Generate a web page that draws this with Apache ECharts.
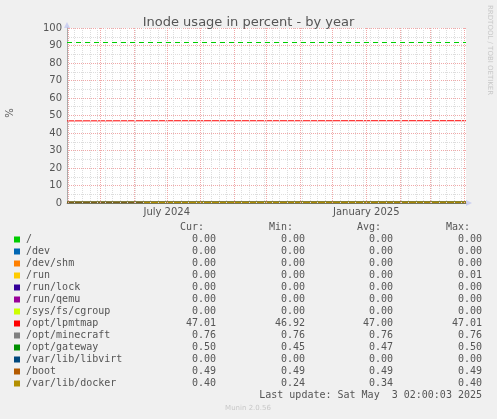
<!DOCTYPE html>
<html><head><meta charset="utf-8">
<script src="https://cdn.jsdelivr.net/npm/echarts@6/dist/echarts.min.js"></script>
<style>html,body{margin:0;background:#f0f0f0}#c{width:497px;height:419px}</style>
</head><body><div id="c"></div>
<script>
const dates = ['2024-03-31','2024-05-01','2024-06-10','2024-07-01','2024-08-01','2024-09-01','2024-10-01','2024-11-01','2024-12-01','2025-01-01','2025-02-01','2025-03-01','2025-04-03'];
const names = ['/','/dev','/dev/shm','/run','/run/lock','/run/qemu','/sys/fs/cgroup','/opt/lpmtmap','/opt/minecraft','/opt/gateway','/var/lib/libvirt','/boot','/var/lib/docker'];
const colors = ['#00cc00','#0066b3','#ff8000','#ffcc00','#330099','#990099','#ccff00','#ff0000','#808080','#008f00','#00487d','#b35a00','#b38f00'];
const values = [
 [0,0,0,0,0,0,0,0,0,0,0,0,0],
 [0,0,0,0,0,0,0,0,0,0,0,0,0],
 [0,0,0,0,0,0,0,0,0,0,0,0,0],
 [0,0,0,0,0,0,0,0,0,0,0,0,0],
 [0,0,0,0,0,0,0,0,0,0,0,0,0],
 [0,0,0,0,0,0,0,0,0,0,0,0,0],
 [0,0,0,0,0,0,0,0,0,0,0,0,0],
 [46.92,46.95,46.98,47.0,47.0,47.0,47.0,47.0,47.0,47.01,47.01,47.01,47.01],
 [0.76,0.76,0.76,0.76,0.76,0.76,0.76,0.76,0.76,0.76,0.76,0.76,0.76],
 [0.45,0.46,0.46,0.47,0.47,0.47,0.47,0.47,0.48,0.48,0.49,0.5,0.5],
 [0,0,0,0,0,0,0,0,0,0,0,0,0],
 [0.49,0.49,0.49,0.49,0.49,0.49,0.49,0.49,0.49,0.49,0.49,0.49,0.49],
 [null,null,0.24,0.26,0.28,0.3,0.32,0.34,0.35,0.36,0.38,0.39,0.40]
];
const cur = ['0.00','0.00','0.00','0.00','0.00','0.00','0.00','47.01','0.76','0.50','0.00','0.49','0.40'];
const mins = ['0.00','0.00','0.00','0.00','0.00','0.00','0.00','46.92','0.76','0.45','0.00','0.49','0.24'];
const avgs = ['0.00','0.00','0.00','0.00','0.00','0.00','0.00','47.00','0.76','0.47','0.00','0.49','0.34'];
const maxs = ['0.00','0.00','0.00','0.01','0.00','0.00','0.00','47.01','0.76','0.50','0.00','0.49','0.40'];
const warning = 92;
const yTicks = [0,100,10];
const monthGrid = ['2024-04-01','2024-05-01','2024-06-01','2024-07-01','2024-08-01','2024-09-01','2024-10-01','2024-11-01','2024-12-01','2025-01-01','2025-02-01','2025-03-01','2025-04-01'];

const weekGrid = [];
for (let t = Date.UTC(2024,3,7); t < Date.UTC(2025,3,3); t += 7*864e5) weekGrid.push(t);

const mono = 'DejaVu Sans Mono';
const txt = '#555';
const series = [{
  type:'line', data:[], silent:true, z:1,
  markLine:{silent:true,symbol:'none',label:{show:false},animation:false,
    data: weekGrid.map(t=>({xAxis:t,lineStyle:{color:'#ddd',type:[1,1],width:1}}))
      .concat(monthGrid.map(d=>({xAxis:d,lineStyle:{color:'#f0a8a8',type:[1,1],width:1}})))}
}].concat(names.map((n,i)=>({
  name:n, type:'line', symbol:'none', silent:true, animation:false, z:3,
  lineStyle:{color:colors[i],width:1}, connectNulls:false,
  data: dates.map((d,j)=>[d, values[i][j]]),
  markLine: i===0 ? {silent:true,symbol:'none',label:{show:false},
    lineStyle:{color:'#00cc00',type:[5,4],width:1.2},data:[{yAxis:warning}]} : undefined
})));
const g = [];
const hy = 227, y0 = 239.5, step = 12;
[['Cur:',204],['Min:',293],['Avg:',381],['Max:',470]].forEach(([t,x])=>g.push({type:'text',x:x,y:hy,style:{text:t,font:'10px '+mono,fill:txt,align:'right',verticalAlign:'middle'}}));
names.forEach((n,i)=>{
  const y = y0+i*step;
  g.push({type:'rect',shape:{x:14,y:y-3,width:6,height:6},style:{fill:colors[i]}});
  g.push({type:'text',x:26,y:y,style:{text:n,font:'10px '+mono,fill:txt,verticalAlign:'middle'}});
  [[cur,216],[mins,305],[avgs,393],[maxs,482]].forEach(([a,x])=>g.push({type:'text',x:x,y:y,style:{text:a[i],font:'10px '+mono,fill:txt,align:'right',verticalAlign:'middle'}}));
});
g.push({type:'text',x:482,y:395.5,style:{text:'Last update: Sat May  3 02:00:03 2025',font:'10px '+mono,fill:txt,align:'right',verticalAlign:'middle'}});
g.push({type:'text',x:248,y:408,style:{text:'Munin 2.0.56',font:'7px DejaVu Sans',fill:'#c8c8c8',align:'center',verticalAlign:'middle'}});
g.push({type:'text',x:10,y:113,rotation:Math.PI/2,style:{text:'%',font:'10px DejaVu Sans',fill:txt,align:'center',verticalAlign:'middle'}});
g.push({type:'text',x:490,y:5,rotation:-Math.PI/2,style:{text:'RRDTOOL / TOBI OETIKER',font:'7px DejaVu Sans',fill:'#c8c8c8',align:'left',verticalAlign:'middle'}});
g.push({type:'polygon',shape:{points:[[64,28],[70,28],[67,22]]},style:{fill:'#ccd0f0'}});
g.push({type:'polygon',shape:{points:[[466,200],[466,206],[472,203]]},style:{fill:'#ccd0f0'}});

const mNames=['January','February','March','April','May','June','July','August','September','October','November','December'];
const chart = echarts.init(document.getElementById('c'));
chart.setOption({
  useUTC:true, animation:false, backgroundColor:'#f0f0f0',
  title:{text:'Inode usage in percent - by year',left:'center',top:11,textStyle:{fontFamily:'DejaVu Sans',fontSize:13,fontWeight:'normal',color:txt}},
  grid:{left:67,right:31,top:28,bottom:216,backgroundColor:'#fff',show:true,borderWidth:0},
  xAxis:{type:'time',min:'2024-03-31',max:'2025-04-03',
    axisLine:{lineStyle:{color:'#aaa'}},axisTick:{show:false},
    axisLabel:{color:txt,fontFamily:'DejaVu Sans',fontSize:10,margin:4,hideOverlap:false,showMinLabel:false,showMaxLabel:false,
      formatter:v=>{const d=new Date(v);const m=d.getUTCMonth();return [0,3,6,9].includes(m)&&d.getUTCDate()===1?mNames[m]+' '+d.getUTCFullYear():'';}},
    splitLine:{show:false}},
  yAxis:{type:'value',min:yTicks[0],max:yTicks[1],interval:yTicks[2],
    axisLine:{show:true,lineStyle:{color:'#aaa'}},axisTick:{show:false},
    axisLabel:{color:txt,fontFamily:'DejaVu Sans',fontSize:10,margin:5},
    splitLine:{lineStyle:{color:'#f0a8a8',type:[1,1]}},
    minorTick:{show:false,splitNumber:2},
    minorSplitLine:{show:true,lineStyle:{color:'#ddd',type:[1,1]}}},
  series:series,
  graphic:g
});
</script></body></html>
